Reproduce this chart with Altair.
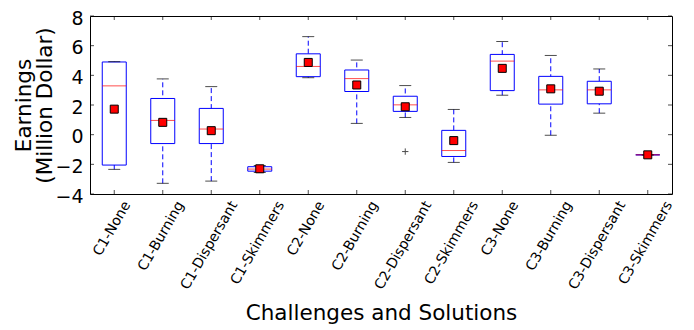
import altair as alt
import pandas as pd

categories = ["C1-None", "C1-Burning", "C1-Dispersant", "C1-Skimmers",
              "C2-None", "C2-Burning", "C2-Dispersant", "C2-Skimmers",
              "C3-None", "C3-Burning", "C3-Dispersant", "C3-Skimmers"]
whisker_low = [-2.34, -3.28, -3.13, -2.55, 3.84, 0.76, 1.16, -1.87, 2.66, -0.04, 1.45, -1.36]
q1 =          [-2.05, -0.60, -0.60, -2.46, 3.91, 2.91, 1.57, -1.47, 2.97, 2.06, 2.08, -1.36]
median =      [3.29, 0.96, 0.38, -2.32, 4.60, 3.78, 2.01, -1.07, 4.96, 3.02, 3.02, -1.36]
q3 =          [4.90, 2.44, 1.77, -2.16, 5.45, 4.36, 2.59, 0.29, 5.41, 3.93, 3.60, -1.36]
whisker_high = [4.92, 3.76, 3.24, -2.08, 6.61, 5.03, 3.31, 1.70, 6.28, 5.34, 4.43, -1.36]
mean_vals =   [1.72, 0.83, 0.27, -2.30, 4.87, 3.35, 1.88, -0.40, 4.47, 3.09, 2.93, -1.36]
outlier_cats = ["C2-Dispersant"]
outlier_vals = [-1.14]
y_ticks = [-4, -2, 0, 2, 4, 6, 8]

df = pd.DataFrame({"cat": categories, "low": whisker_low, "q1": q1, "med": median,
                   "q3": q3, "high": whisker_high, "mean": mean_vals})
df_out = pd.DataFrame({"cat": outlier_cats, "val": outlier_vals})
df_yt = pd.DataFrame({"v": y_ticks})

W, H = 582, 178
FONT = "DejaVu Sans"

label_offset = {
    "condition": [
        {"test": "indexof(datum.value, 'None') >= 0", "value": 13},
        {"test": "indexof(datum.value, 'Burning') >= 0", "value": 18},
        {"test": "indexof(datum.value, 'Dispersant') >= 0", "value": 23},
    ],
    "value": 21.5,
}

x_axis = alt.Axis(title="Challenges and Solutions", labelAngle=300,
                  labelAlign="right", labelBaseline="middle",
                  labelOffset=label_offset, labelPadding=8,
                  ticks=False, domain=False, labelFont=FONT,
                  labelFontSize=14, labelColor="black", labelOverlap=False,
                  titleFont=FONT, titleFontSize=21.5, titleFontWeight="normal",
                  titleColor="black", titleY=125, titleBaseline="alphabetic")
x_enc = alt.X("cat:N", sort=categories,
              scale=alt.Scale(paddingInner=0, paddingOuter=0), axis=x_axis)
y_scale = alt.Scale(domain=[-4, 8], nice=False)
y_axis = alt.Axis(title=["Earnings", "(Million Dollar)"], values=y_ticks, grid=False,
                  ticks=False, domain=False, labelFont=FONT, labelFontSize=19,
                  labelColor="black", labelPadding=7, labelOverlap=False, labelFlush=False,
                  labelBaseline="middle", labelOffset=2,
                  titleFont=FONT, titleFontSize=21.5, titleFontWeight="normal",
                  titleColor="black", titleAngle=270, titleX=-66, titleY=H / 2,
                  titleAlign="center", titleBaseline="middle", titleLineHeight=21)


def Y(field):
    return alt.Y(field, scale=y_scale, axis=y_axis)


base = alt.Chart(df).encode(x=x_enc)

whisk = base.mark_rule(color="blue", strokeWidth=1, strokeDash=[5, 3]).encode(
    y=Y("low:Q"), y2="high:Q")
cap_lo = base.mark_tick(color="black", size=12, thickness=1, orient="horizontal").encode(
    y=Y("low:Q"))
cap_hi = base.mark_tick(color="black", size=12, thickness=1, orient="horizontal").encode(
    y=Y("high:Q"))
box = base.mark_bar(fill="white", stroke="blue", strokeWidth=1, size=24).encode(
    y=Y("q1:Q"), y2="q3:Q")
med = base.mark_tick(color="red", size=24, thickness=1, orient="horizontal").encode(
    y=Y("med:Q"))
mean = base.mark_square(fill="red", stroke="black", strokeWidth=1, size=64, opacity=1).encode(
    y=Y("mean:Q"))
outl = alt.Chart(df_out).mark_point(shape="M-1,0L1,0M0,-1L0,1", stroke="black",
                                    strokeWidth=1, size=40, filled=False).encode(
    x=x_enc, y=Y("val:Q"))

xt_bot = base.mark_tick(color="black", size=4, thickness=1, orient="vertical").encode(
    y=alt.value(H - 2))
xt_top = base.mark_tick(color="black", size=4, thickness=1, orient="vertical").encode(
    y=alt.value(2))
yt_left = alt.Chart(df_yt).mark_tick(color="black", size=4, thickness=1, orient="horizontal").encode(
    y=Y("v:Q"), x=alt.value(2))
yt_right = alt.Chart(df_yt).mark_tick(color="black", size=4, thickness=1, orient="horizontal").encode(
    y=Y("v:Q"), x=alt.value(W - 2))

chart = alt.layer(whisk, box, cap_lo, cap_hi, med, mean, outl,
                  xt_bot, xt_top, yt_left, yt_right).properties(
    width=W, height=H, background="white",
    autosize=alt.AutoSizeParams(type="none"),
    padding={"left": 82, "top": 8, "right": 14, "bottom": 130}
).configure_view(stroke="black", strokeWidth=1
).configure_axis(labelOverlap=False)

chart.save("out.html", embed_options={"renderer": "svg", "actions": False})
